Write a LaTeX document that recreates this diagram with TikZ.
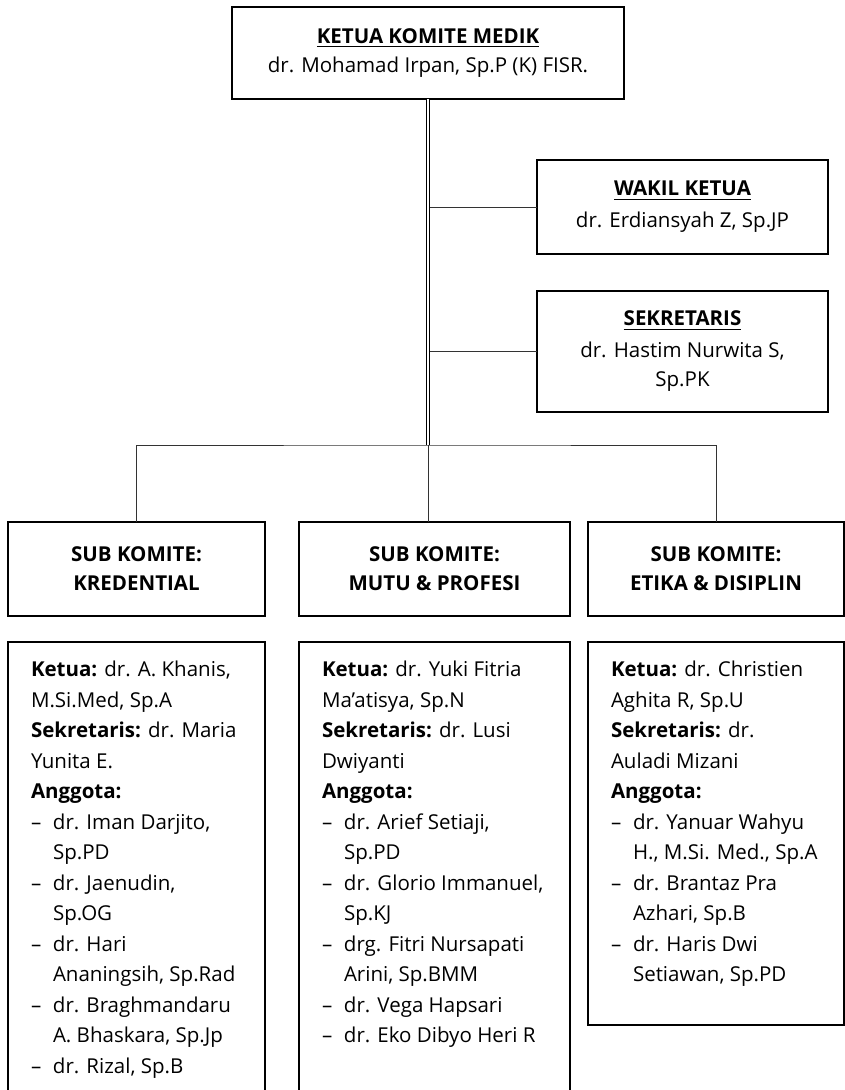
\documentclass[tikz,border=0pt]{standalone}
\usepackage{fontspec}
\setmainfont{Open Sans}
\usetikzlibrary{positioning}

\newcommand{\itm}[1]{\makebox[22pt][l]{--}#1}
\newcommand{\cont}[1]{\hspace*{22pt}#1}
\newcommand{\headline}[1]{\setbox0\hbox{\bfseries #1}\rlap{\rule[-4pt]{\wd0}{1.3pt}}\box0}

\begin{document}
\begin{tikzpicture}[
		x=1pt, y=-1pt,
		node distance=26pt and 34pt,
		every node/.style={outer sep=0pt},
		box/.style={draw, line width=1.8pt, align=center, inner sep=0pt, font=\fontsize{20.5}{29}\selectfont},
		sub/.style={box, font=\fontsize{20.5}{29}\selectfont\bfseries},
		member/.style={draw, line width=1.8pt, inner sep=0pt},
		list/.style={align=left, inner sep=0pt, font=\fontsize{20.5}{30.5}\selectfont},
		link/.style={line width=1pt, black!80}
	]
	\useasboundingbox (0,0) rectangle (845,1090);

	% Nodes
	\node[box, minimum width=392pt, minimum height=92pt] (ketua) at (428,53) {\headline{KETUA KOMITE MEDIK}\\ dr. Mohamad Irpan, Sp.P (K) FISR.};
	\node[box, minimum width=291pt, minimum height=94pt] (wakil) at (682.5,207) {\headline{WAKIL KETUA}\\[3pt] dr. Erdiansyah Z, Sp.JP};
	\node[box, minimum width=291pt, minimum height=121pt, below=37pt of wakil] (sekretaris) {\headline{SEKRETARIS}\\[3pt] dr. Hastim Nurwita S,\\ Sp.PK};

	\node[sub, minimum width=257pt, minimum height=94pt] (kredential) at (136.5,569) {SUB KOMITE:\\ KREDENTIAL};
	\node[sub, minimum width=271pt, minimum height=94pt, right=of kredential] (mutu) {SUB KOMITE:\\ MUTU \& PROFESI};
	\node[sub, minimum width=256pt, minimum height=94pt, right=18pt of mutu] (etika) {SUB KOMITE:\\ ETIKA \& DISIPLIN};

	\node[member, minimum width=257pt, minimum height=470pt, below=of kredential] (memkredential) {};
	\node[member, minimum width=271pt, minimum height=470pt, below=of mutu] (memmutu) {};
	\node[member, minimum width=256pt, minimum height=383pt, below=of etika] (memetika) {};

	\node[list, below right=19pt and 23pt of memkredential.north west] (listkredential) {%
		\textbf{Ketua:} dr. A. Khanis,\\
		M.Si.Med, Sp.A\\
		\textbf{Sekretaris:} dr. Maria\\
		Yunita E.\\
		\textbf{Anggota:}\\
		\itm{dr. Iman Darjito,}\\
		\cont{Sp.PD}\\
		\itm{dr. Jaenudin,}\\
		\cont{Sp.OG}\\
		\itm{dr. Hari}\\
		\cont{Ananingsih, Sp.Rad}\\
		\itm{dr. Braghmandaru}\\
		\cont{A. Bhaskara, Sp.Jp}\\
		\itm{dr. Rizal, Sp.B}};
	\node[list, below right=19pt and 23pt of memmutu.north west] (listmutu) {%
		\textbf{Ketua:} dr. Yuki Fitria\\
		Ma’atisya, Sp.N\\
		\textbf{Sekretaris:} dr. Lusi\\
		Dwiyanti\\
		\textbf{Anggota:}\\
		\itm{dr. Arief Setiaji,}\\
		\cont{Sp.PD}\\
		\itm{dr. Glorio Immanuel,}\\
		\cont{Sp.KJ}\\
		\itm{drg. Fitri Nursapati}\\
		\cont{Arini, Sp.BMM}\\
		\itm{dr. Vega Hapsari}\\
		\itm{dr. Eko Dibyo Heri R}};
	\node[list, below right=19pt and 23pt of memetika.north west] (listetika) {%
		\textbf{Ketua:} dr. Christien\\
		Aghita R, Sp.U\\
		\textbf{Sekretaris:} dr.\\
		Auladi Mizani\\
		\textbf{Anggota:}\\
		\itm{dr. Yanuar Wahyu}\\
		\cont{H., M.Si. Med., Sp.A}\\
		\itm{dr. Brantaz Pra}\\
		\cont{Azhari, Sp.B}\\
		\itm{dr. Haris Dwi}\\
		\cont{Setiawan, Sp.PD}};

	% Lines
	\coordinate (bus) at (ketua.south |- 0,445);
	\draw[link] (wakil.west) -- (wakil.west -| ketua.south);
	\draw[link] (sekretaris.west) -- (sekretaris.west -| ketua.south);
	\draw[line width=0.9pt, double, double distance=1.4pt] (ketua.south) -- (bus);
	\draw[link] (kredential.north) |- (bus) -| (etika.north);
	\draw[link] (bus) -- (bus |- mutu.north);

\end{tikzpicture}
\end{document}
